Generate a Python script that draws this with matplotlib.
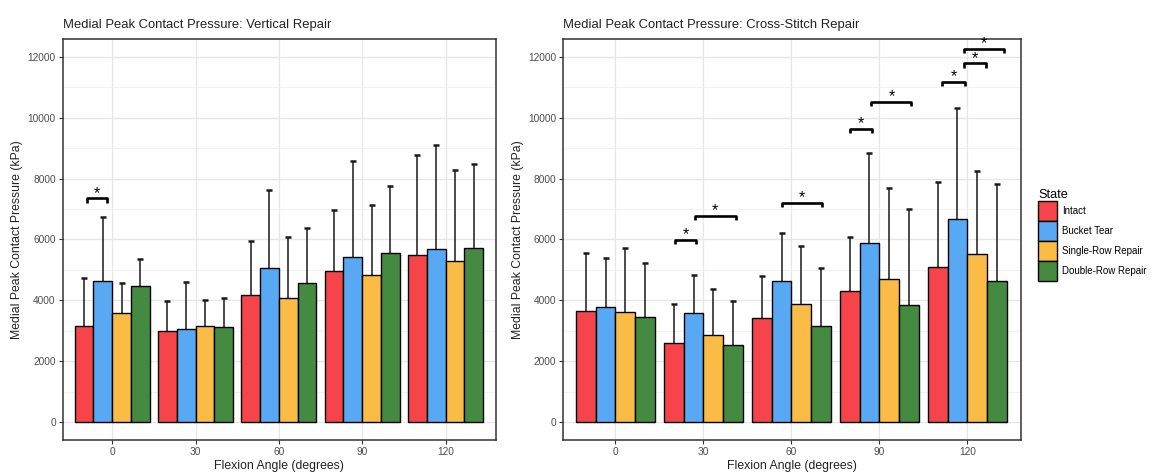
"""Medial peak contact pressure by flexion angle, two repair types."""

from __future__ import annotations

import matplotlib

matplotlib.use("Agg")
import matplotlib.pyplot as plt
from matplotlib.patches import Patch
from matplotlib.ticker import MultipleLocator


OUT_NAME = "out.png"

ANGLES = [0, 30, 60, 90, 120]
STATES = ["Intact", "Bucket Tear", "Single-Row Repair", "Double-Row Repair"]
STATE_COLORS = ["#F5454A", "#58A8F4", "#FBBC45", "#458A41"]

# rows follow STATES, columns follow ANGLES
VERTICAL_MEAN = [
    [3150, 3010, 4180, 4950, 5485],
    [4645, 3050, 5070, 5410, 5690],
    [3580, 3160, 4090, 4850, 5290],
    [4480, 3130, 4580, 5560, 5715],
]
VERTICAL_SD = [
    [1580, 980, 1760, 2030, 3275],
    [2085, 1550, 2560, 3160, 3405],
    [1000, 850, 1980, 2270, 3000],
    [885, 950, 1810, 2200, 2755],
]

CROSS_MEAN = [
    [3665, 2605, 3435, 4300, 5100],
    [3775, 3590, 4630, 5900, 6685],
    [3620, 2855, 3895, 4705, 5515],
    [3455, 2525, 3150, 3860, 4630],
]
CROSS_SD = [
    [1880, 1270, 1355, 1785, 2790],
    [1630, 1245, 1585, 2950, 3645],
    [2100, 1530, 1905, 2975, 2745],
    [1765, 1470, 1925, 3150, 3190],
]

# significance brackets: start / end on the angle axis, height in kPa
VERTICAL_SIG_START = [-9.0]
VERTICAL_SIG_END = [-1.7]
VERTICAL_SIG_Y = [7350]

CROSS_SIG_START = [20.2, 27.1, 56.7, 80.1, 87.3, 111.5, 118.7, 118.7]
CROSS_SIG_END = [27.6, 41.0, 70.4, 87.6, 100.9, 119.1, 126.5, 132.5]
CROSS_SIG_Y = [5980, 6770, 7205, 9625, 10520, 11180, 11780, 12260]

GROUP_WIDTH = 27.0
TEXT_DARK = "#222222"
TICK_GRAY = "#4D4D4D"


def draw_panel(ax, title, means, sds, sig_start, sig_end, sig_y):
    bar_w = GROUP_WIDTH / len(STATES)
    for i, (state, color) in enumerate(zip(STATES, STATE_COLORS)):
        offset = -GROUP_WIDTH / 2 + bar_w * (i + 0.5)
        xs = [a + offset for a in ANGLES]
        tops = [m + s for m, s in zip(means[i], sds[i])]
        ax.bar(xs, means[i], width=bar_w, color=color, edgecolor="black",
               linewidth=1.0, zorder=3, label=state)
        # upper whisker only, no cap at the bar top
        ax.vlines(xs, means[i], tops, color="#1a1a1a", linewidth=1.1, zorder=2)
        ax.plot(xs, tops, linestyle="none", marker="_", markersize=4.5,
                markeredgewidth=1.8, color="#1a1a1a", zorder=2)

    for x0, x1, y in zip(sig_start, sig_end, sig_y):
        ax.plot([x0, x0, x1, x1], [y - 140, y, y, y - 140], color="black",
                linewidth=1.9, solid_capstyle="butt", zorder=4)
        ax.annotate("*", xy=((x0 + x1) / 2, y), xytext=(0, 0.5),
                    textcoords="offset points", ha="center", va="baseline",
                    fontsize=11.5, color="black", zorder=5)

    ax.set_xlim(-17.8, 138.2)
    ax.set_ylim(-580, 12580)
    ax.set_xticks(ANGLES)
    ax.yaxis.set_major_locator(MultipleLocator(2000))
    ax.yaxis.set_minor_locator(MultipleLocator(1000))
    ax.grid(True, which="major", color="#E6E6E6", linewidth=0.9, zorder=0)
    ax.grid(True, which="minor", axis="y", color="#EFEFEF", linewidth=0.6, zorder=0)
    ax.set_axisbelow(True)
    ax.tick_params(axis="both", which="major", length=3, width=0.8,
                   color="#333333", labelsize=7.3, labelcolor=TICK_GRAY, pad=2)
    ax.tick_params(axis="y", which="minor", length=0)
    for spine in ax.spines.values():
        spine.set_color("#333333")
        spine.set_linewidth(1.1)

    ax.set_xlabel("Flexion Angle (degrees)", fontsize=8.8, color=TEXT_DARK, labelpad=2)
    ax.set_ylabel("Medial Peak Contact Pressure (kPa)", fontsize=8.8,
                  color=TEXT_DARK, labelpad=3)
    ax.set_title(title, fontsize=9.4, color=TEXT_DARK, loc="left", pad=8)


def main() -> int:
    plt.rcParams["font.family"] = ["Liberation Sans", "DejaVu Sans"]
    fig = plt.figure(figsize=(11.51, 4.72), dpi=100)
    ax_left = fig.add_axes([0.0545, 0.0678, 0.3765, 0.8496])
    ax_right = fig.add_axes([0.4894, 0.0678, 0.3974, 0.8496])

    draw_panel(ax_left, "Medial Peak Contact Pressure: Vertical Repair",
               VERTICAL_MEAN, VERTICAL_SD,
               VERTICAL_SIG_START, VERTICAL_SIG_END, VERTICAL_SIG_Y)
    draw_panel(ax_right, "Medial Peak Contact Pressure: Cross-Stitch Repair",
               CROSS_MEAN, CROSS_SD,
               CROSS_SIG_START, CROSS_SIG_END, CROSS_SIG_Y)

    handles = [Patch(facecolor=c, edgecolor="black", linewidth=1.0) for c in STATE_COLORS]
    fig.legend(handles, STATES, title="State", loc="upper left",
               bbox_to_anchor=(0.898, 0.61), frameon=False, fontsize=7.0,
               title_fontsize=9.2, handlelength=1.95, handleheight=2.79,
               labelspacing=0.0, handletextpad=0.45, borderpad=0,
               alignment="left")

    fig.savefig(OUT_NAME, dpi=100)
    plt.close(fig)
    return 0


if __name__ == "__main__":
    raise SystemExit(main())
